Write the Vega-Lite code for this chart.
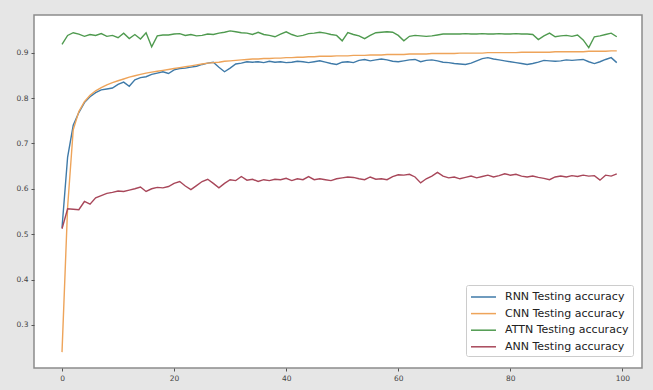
{
  "$schema": "https://vega.github.io/schema/vega-lite/v6.json",
  "width": 608,
  "height": 353,
  "autosize": {"type": "none"},
  "padding": {"left": 34, "top": 15, "right": 11, "bottom": 22},
  "background": "#e6e6e6",
  "config": {
    "view": {"fill": "white", "stroke": "#8c8c8c", "strokeWidth": 1.5},
    "axis": {
      "grid": false,
      "domain": false,
      "ticks": true,
      "tickSize": 3,
      "tickColor": "#555555",
      "labelFont": "DejaVu Sans",
      "labelFontSize": 7.5,
      "labelColor": "#444444",
      "labelPadding": 3,
      "title": null
    },
    "legend": {
      "orient": "none",
      "legendX": 432,
      "legendY": 270,
      "fillColor": "white",
      "strokeColor": "#cccccc",
      "padding": 4,
      "cornerRadius": 2,
      "labelFont": "DejaVu Sans",
      "labelFontSize": 11,
      "labelColor": "#222222",
      "labelOffset": 19,
      "symbolType": "M-1,0H2.57",
      "symbolSize": 196,
      "symbolStrokeWidth": 1.5,
      "rowPadding": 3.6,
      "title": null
    }
  },
  "data": {
    "values": [
      {"epoch": 0, "RNN": 0.514, "CNN": 0.240, "ATTN": 0.918, "ANN": 0.512},
      {"epoch": 1, "RNN": 0.670, "CNN": 0.560, "ATTN": 0.938, "ANN": 0.556},
      {"epoch": 2, "RNN": 0.740, "CNN": 0.730, "ATTN": 0.944, "ANN": 0.555},
      {"epoch": 3, "RNN": 0.768, "CNN": 0.770, "ATTN": 0.941, "ANN": 0.554},
      {"epoch": 4, "RNN": 0.790, "CNN": 0.792, "ATTN": 0.936, "ANN": 0.572},
      {"epoch": 5, "RNN": 0.803, "CNN": 0.806, "ATTN": 0.940, "ANN": 0.566},
      {"epoch": 6, "RNN": 0.812, "CNN": 0.816, "ATTN": 0.938, "ANN": 0.580},
      {"epoch": 7, "RNN": 0.818, "CNN": 0.823, "ATTN": 0.942, "ANN": 0.585},
      {"epoch": 8, "RNN": 0.820, "CNN": 0.829, "ATTN": 0.936, "ANN": 0.590},
      {"epoch": 9, "RNN": 0.822, "CNN": 0.834, "ATTN": 0.938, "ANN": 0.592},
      {"epoch": 10, "RNN": 0.830, "CNN": 0.838, "ATTN": 0.933, "ANN": 0.595},
      {"epoch": 11, "RNN": 0.835, "CNN": 0.842, "ATTN": 0.943, "ANN": 0.594},
      {"epoch": 12, "RNN": 0.826, "CNN": 0.846, "ATTN": 0.931, "ANN": 0.597},
      {"epoch": 13, "RNN": 0.840, "CNN": 0.849, "ATTN": 0.940, "ANN": 0.600},
      {"epoch": 14, "RNN": 0.845, "CNN": 0.852, "ATTN": 0.930, "ANN": 0.604},
      {"epoch": 15, "RNN": 0.847, "CNN": 0.855, "ATTN": 0.944, "ANN": 0.594},
      {"epoch": 16, "RNN": 0.852, "CNN": 0.857, "ATTN": 0.913, "ANN": 0.600},
      {"epoch": 17, "RNN": 0.855, "CNN": 0.859, "ATTN": 0.937, "ANN": 0.603},
      {"epoch": 18, "RNN": 0.858, "CNN": 0.861, "ATTN": 0.939, "ANN": 0.602},
      {"epoch": 19, "RNN": 0.854, "CNN": 0.863, "ATTN": 0.939, "ANN": 0.605},
      {"epoch": 20, "RNN": 0.862, "CNN": 0.865, "ATTN": 0.941, "ANN": 0.612},
      {"epoch": 21, "RNN": 0.865, "CNN": 0.867, "ATTN": 0.942, "ANN": 0.616},
      {"epoch": 22, "RNN": 0.866, "CNN": 0.869, "ATTN": 0.938, "ANN": 0.606},
      {"epoch": 23, "RNN": 0.868, "CNN": 0.871, "ATTN": 0.940, "ANN": 0.598},
      {"epoch": 24, "RNN": 0.870, "CNN": 0.873, "ATTN": 0.937, "ANN": 0.607},
      {"epoch": 25, "RNN": 0.874, "CNN": 0.875, "ATTN": 0.938, "ANN": 0.616},
      {"epoch": 26, "RNN": 0.877, "CNN": 0.877, "ATTN": 0.941, "ANN": 0.621},
      {"epoch": 27, "RNN": 0.879, "CNN": 0.878, "ATTN": 0.940, "ANN": 0.612},
      {"epoch": 28, "RNN": 0.868, "CNN": 0.879, "ATTN": 0.943, "ANN": 0.602},
      {"epoch": 29, "RNN": 0.858, "CNN": 0.881, "ATTN": 0.945, "ANN": 0.612},
      {"epoch": 30, "RNN": 0.866, "CNN": 0.882, "ATTN": 0.948, "ANN": 0.620},
      {"epoch": 31, "RNN": 0.875, "CNN": 0.883, "ATTN": 0.946, "ANN": 0.618},
      {"epoch": 32, "RNN": 0.877, "CNN": 0.884, "ATTN": 0.944, "ANN": 0.627},
      {"epoch": 33, "RNN": 0.880, "CNN": 0.885, "ATTN": 0.943, "ANN": 0.619},
      {"epoch": 34, "RNN": 0.879, "CNN": 0.886, "ATTN": 0.940, "ANN": 0.621},
      {"epoch": 35, "RNN": 0.880, "CNN": 0.886, "ATTN": 0.945, "ANN": 0.616},
      {"epoch": 36, "RNN": 0.878, "CNN": 0.887, "ATTN": 0.940, "ANN": 0.620},
      {"epoch": 37, "RNN": 0.881, "CNN": 0.887, "ATTN": 0.938, "ANN": 0.618},
      {"epoch": 38, "RNN": 0.879, "CNN": 0.888, "ATTN": 0.935, "ANN": 0.621},
      {"epoch": 39, "RNN": 0.880, "CNN": 0.888, "ATTN": 0.941, "ANN": 0.620},
      {"epoch": 40, "RNN": 0.878, "CNN": 0.889, "ATTN": 0.946, "ANN": 0.623},
      {"epoch": 41, "RNN": 0.879, "CNN": 0.889, "ATTN": 0.940, "ANN": 0.618},
      {"epoch": 42, "RNN": 0.881, "CNN": 0.890, "ATTN": 0.936, "ANN": 0.622},
      {"epoch": 43, "RNN": 0.880, "CNN": 0.890, "ATTN": 0.938, "ANN": 0.620},
      {"epoch": 44, "RNN": 0.878, "CNN": 0.891, "ATTN": 0.942, "ANN": 0.627},
      {"epoch": 45, "RNN": 0.880, "CNN": 0.891, "ATTN": 0.943, "ANN": 0.620},
      {"epoch": 46, "RNN": 0.882, "CNN": 0.892, "ATTN": 0.945, "ANN": 0.622},
      {"epoch": 47, "RNN": 0.879, "CNN": 0.892, "ATTN": 0.943, "ANN": 0.620},
      {"epoch": 48, "RNN": 0.876, "CNN": 0.892, "ATTN": 0.940, "ANN": 0.618},
      {"epoch": 49, "RNN": 0.874, "CNN": 0.893, "ATTN": 0.938, "ANN": 0.622},
      {"epoch": 50, "RNN": 0.879, "CNN": 0.893, "ATTN": 0.926, "ANN": 0.624},
      {"epoch": 51, "RNN": 0.880, "CNN": 0.893, "ATTN": 0.944, "ANN": 0.626},
      {"epoch": 52, "RNN": 0.878, "CNN": 0.894, "ATTN": 0.940, "ANN": 0.625},
      {"epoch": 53, "RNN": 0.883, "CNN": 0.894, "ATTN": 0.937, "ANN": 0.622},
      {"epoch": 54, "RNN": 0.885, "CNN": 0.894, "ATTN": 0.931, "ANN": 0.620},
      {"epoch": 55, "RNN": 0.882, "CNN": 0.895, "ATTN": 0.938, "ANN": 0.626},
      {"epoch": 56, "RNN": 0.884, "CNN": 0.895, "ATTN": 0.944, "ANN": 0.621},
      {"epoch": 57, "RNN": 0.886, "CNN": 0.895, "ATTN": 0.945, "ANN": 0.622},
      {"epoch": 58, "RNN": 0.884, "CNN": 0.896, "ATTN": 0.946, "ANN": 0.620},
      {"epoch": 59, "RNN": 0.881, "CNN": 0.896, "ATTN": 0.945, "ANN": 0.627},
      {"epoch": 60, "RNN": 0.880, "CNN": 0.896, "ATTN": 0.938, "ANN": 0.631},
      {"epoch": 61, "RNN": 0.882, "CNN": 0.896, "ATTN": 0.926, "ANN": 0.630},
      {"epoch": 62, "RNN": 0.884, "CNN": 0.897, "ATTN": 0.936, "ANN": 0.632},
      {"epoch": 63, "RNN": 0.885, "CNN": 0.897, "ATTN": 0.938, "ANN": 0.626},
      {"epoch": 64, "RNN": 0.880, "CNN": 0.897, "ATTN": 0.937, "ANN": 0.613},
      {"epoch": 65, "RNN": 0.883, "CNN": 0.897, "ATTN": 0.936, "ANN": 0.622},
      {"epoch": 66, "RNN": 0.884, "CNN": 0.898, "ATTN": 0.937, "ANN": 0.628},
      {"epoch": 67, "RNN": 0.882, "CNN": 0.898, "ATTN": 0.939, "ANN": 0.636},
      {"epoch": 68, "RNN": 0.879, "CNN": 0.898, "ATTN": 0.941, "ANN": 0.628},
      {"epoch": 69, "RNN": 0.878, "CNN": 0.898, "ATTN": 0.941, "ANN": 0.624},
      {"epoch": 70, "RNN": 0.876, "CNN": 0.898, "ATTN": 0.941, "ANN": 0.626},
      {"epoch": 71, "RNN": 0.875, "CNN": 0.899, "ATTN": 0.941, "ANN": 0.622},
      {"epoch": 72, "RNN": 0.874, "CNN": 0.899, "ATTN": 0.942, "ANN": 0.625},
      {"epoch": 73, "RNN": 0.877, "CNN": 0.899, "ATTN": 0.941, "ANN": 0.628},
      {"epoch": 74, "RNN": 0.882, "CNN": 0.899, "ATTN": 0.941, "ANN": 0.624},
      {"epoch": 75, "RNN": 0.887, "CNN": 0.899, "ATTN": 0.942, "ANN": 0.627},
      {"epoch": 76, "RNN": 0.889, "CNN": 0.900, "ATTN": 0.941, "ANN": 0.630},
      {"epoch": 77, "RNN": 0.886, "CNN": 0.900, "ATTN": 0.941, "ANN": 0.626},
      {"epoch": 78, "RNN": 0.884, "CNN": 0.900, "ATTN": 0.942, "ANN": 0.629},
      {"epoch": 79, "RNN": 0.882, "CNN": 0.900, "ATTN": 0.941, "ANN": 0.633},
      {"epoch": 80, "RNN": 0.880, "CNN": 0.900, "ATTN": 0.941, "ANN": 0.630},
      {"epoch": 81, "RNN": 0.878, "CNN": 0.900, "ATTN": 0.942, "ANN": 0.632},
      {"epoch": 82, "RNN": 0.876, "CNN": 0.901, "ATTN": 0.941, "ANN": 0.628},
      {"epoch": 83, "RNN": 0.874, "CNN": 0.901, "ATTN": 0.941, "ANN": 0.626},
      {"epoch": 84, "RNN": 0.876, "CNN": 0.901, "ATTN": 0.940, "ANN": 0.628},
      {"epoch": 85, "RNN": 0.879, "CNN": 0.901, "ATTN": 0.929, "ANN": 0.625},
      {"epoch": 86, "RNN": 0.883, "CNN": 0.901, "ATTN": 0.937, "ANN": 0.623},
      {"epoch": 87, "RNN": 0.882, "CNN": 0.901, "ATTN": 0.943, "ANN": 0.620},
      {"epoch": 88, "RNN": 0.881, "CNN": 0.902, "ATTN": 0.935, "ANN": 0.626},
      {"epoch": 89, "RNN": 0.882, "CNN": 0.902, "ATTN": 0.937, "ANN": 0.628},
      {"epoch": 90, "RNN": 0.884, "CNN": 0.902, "ATTN": 0.938, "ANN": 0.626},
      {"epoch": 91, "RNN": 0.883, "CNN": 0.902, "ATTN": 0.936, "ANN": 0.629},
      {"epoch": 92, "RNN": 0.884, "CNN": 0.902, "ATTN": 0.939, "ANN": 0.627},
      {"epoch": 93, "RNN": 0.885, "CNN": 0.902, "ATTN": 0.928, "ANN": 0.630},
      {"epoch": 94, "RNN": 0.880, "CNN": 0.903, "ATTN": 0.911, "ANN": 0.628},
      {"epoch": 95, "RNN": 0.876, "CNN": 0.903, "ATTN": 0.935, "ANN": 0.629},
      {"epoch": 96, "RNN": 0.880, "CNN": 0.903, "ATTN": 0.937, "ANN": 0.619},
      {"epoch": 97, "RNN": 0.885, "CNN": 0.903, "ATTN": 0.940, "ANN": 0.630},
      {"epoch": 98, "RNN": 0.889, "CNN": 0.904, "ATTN": 0.943, "ANN": 0.628},
      {"epoch": 99, "RNN": 0.878, "CNN": 0.904, "ATTN": 0.935, "ANN": 0.633}
    ]
  },
  "transform": [
    {"fold": ["RNN", "CNN", "ATTN", "ANN"], "as": ["model", "accuracy"]}
  ],
  "mark": {"type": "line", "strokeWidth": 1.4, "clip": true},
  "encoding": {
    "x": {
      "field": "epoch",
      "type": "quantitative",
      "scale": {"domain": [-5, 103.5], "nice": false, "zero": false},
      "axis": {"values": [0, 20, 40, 60, 80, 100]}
    },
    "y": {
      "field": "accuracy",
      "type": "quantitative",
      "scale": {"domain": [0.205, 0.983], "nice": false, "zero": false},
      "axis": {"values": [0.3, 0.4, 0.5, 0.6, 0.7, 0.8, 0.9], "format": ".1f"}
    },
    "color": {
      "field": "model",
      "type": "nominal",
      "scale": {
        "domain": ["RNN", "CNN", "ATTN", "ANN"],
        "range": ["#3f7aa8", "#eea45a", "#4f9a4f", "#a8475a"]
      },
      "legend": {
        "labelExpr": "datum.label + ' Testing accuracy'"
      }
    }
  }
}
